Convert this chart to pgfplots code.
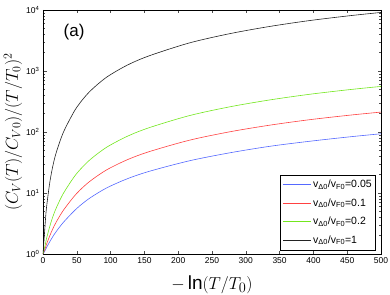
\documentclass[border=0pt]{standalone}
\usepackage{fontspec}
\setmainfont{Liberation Sans}
\usepackage{pgfplots}
\pgfplotsset{compat=1.18}
\definecolor{cb}{RGB}{85,105,255}
\definecolor{cr}{RGB}{255,65,65}
\definecolor{cg}{RGB}{115,230,30}
\definecolor{ck}{RGB}{35,35,35}
\begin{document}
\begin{tikzpicture}
\begin{axis}[
  name=ax,
  scale only axis,
  width=338pt, height=244pt,
  xmin=0, xmax=500, ymin=1, ymax=10000,
  ymode=log,
  axis line style={black,line width=0.6pt},
  tick align=inside,
  major tick length=3.5pt, minor tick length=2pt,
  tick style={black!70,line width=0.4pt},
  xtick={0,50,...,500},
  ytick={1,10,100,1000,10000},
  yticklabels={10\textsuperscript{0},10\textsuperscript{1},10\textsuperscript{2},10\textsuperscript{3},10\textsuperscript{4}},
  /pgf/number format/assume math mode=true,
  tick label style={font=\fontsize{8.5}{10}\selectfont},
  xlabel={$-\ln(T/T_0)$},
  ylabel={$(C_V(T)/C_{V0})/(T/T_0)^2$},
  xlabel style={font=\fontsize{19}{21}\selectfont,at={(axis description cs:0.5,-0.125)},anchor=center},
  ylabel style={font=\fontsize{16.5}{19}\selectfont,at={(axis description cs:-0.0888,0.5)},anchor=center},
  legend style={at={(rel axis cs:0.985,0.016)},anchor=south east,
    draw=black,line width=0.5pt,fill=white,
    font=\fontsize{10.5}{11}\selectfont,
    inner xsep=2pt,inner ysep=4pt,row sep=7.5pt,
    nodes={inner xsep=2pt,inner ysep=1pt}},
  legend cell align=left,
  legend image code/.code={\draw[#1,line width=0.6pt] (0pt,0pt) -- (28pt,0pt);},
  every axis plot/.append style={line width=0.6pt,smooth},
]
\addplot[cb] coordinates {
(0,1) (3,1.132) (5,1.263) (10,1.589) (15,1.966) (20,2.370) (30,3.289) (45,4.940)
(55,6.245) (70,8.363) (94,12.09) (125,17.17) (158,22.80) (217,33.82) (277,45.74)
(336,58.40) (395,70.59) (454,83.39) (500,93.52)};
\addlegendentry{v\textsubscript{Δ0}/v\textsubscript{F0}=0.05}
\addplot[cr] coordinates {
(0,1) (3,1.211) (5,1.425) (10,1.985) (15,2.660) (20,3.408) (30,5.186) (45,8.546)
(55,11.25) (70,15.76) (94,23.90) (125,35.24) (158,47.98) (217,73.56) (277,101.1)
(336,129.7) (395,159.4) (454,188.9) (500,212.1)};
\addlegendentry{v\textsubscript{Δ0}/v\textsubscript{F0}=0.1}
\addplot[cg] coordinates {
(0,1) (3,1.364) (5,1.751) (10,2.831) (15,4.215) (20,5.818) (30,9.803) (45,17.72)
(55,24.28) (70,35.49) (94,56.10) (125,85.32) (158,118.6) (217,186.2) (277,259.6)
(336,336.3) (395,416.1) (454,495.8) (500,558.5)};
\addlegendentry{v\textsubscript{Δ0}/v\textsubscript{F0}=0.2}
\addplot[ck] coordinates {
(0,1) (3,2.89) (5,5.52) (10,14.8) (15,29.2) (20,47.6) (30,98.0) (45,207)
(55,303) (70,471) (94,790) (125,1253) (158,1789) (217,2894) (277,4109)
(336,5388) (395,6724) (454,8064) (500,9120)};
\addlegendentry{v\textsubscript{Δ0}/v\textsubscript{F0}=1}
\node[font=\fontsize{17}{19}\selectfont,anchor=center] at (rel axis cs:0.092,0.91) {(a)};
\end{axis}
\pgfresetboundingbox
\path[use as bounding box] ([xshift=-43pt,yshift=-40pt]ax.south west) rectangle ([xshift=9pt,yshift=10pt]ax.north east);
\end{tikzpicture}
\end{document}
